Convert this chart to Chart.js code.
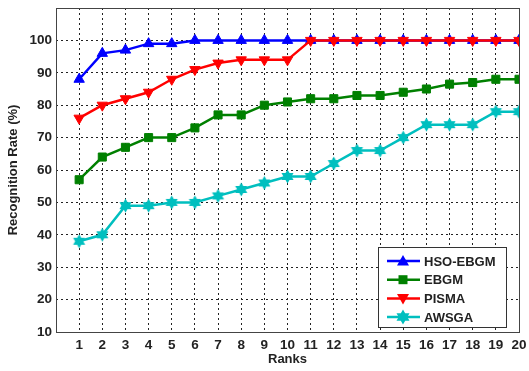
<!DOCTYPE html>
<html>
<head>
<meta charset="utf-8">
<script src="https://cdn.jsdelivr.net/npm/chart.js@4/dist/chart.umd.min.js"></script>
<style>
  html, body { margin: 0; padding: 0; background: #fff; }
  #wrap { width: 529px; height: 371px; position: relative; }
</style>
</head>
<body>
<div id="wrap"><canvas id="rankChart"></canvas></div>
<script>
const ranks = [1, 2, 3, 4, 5, 6, 7, 8, 9, 10, 11, 12, 13, 14, 15, 16, 17, 18, 19, 20];
const hsoEbgm = [88, 96, 97, 99, 99, 100, 100, 100, 100, 100, 100, 100, 100, 100, 100, 100, 100, 100, 100, 100];
const ebgm = [57, 64, 67, 70, 70, 73, 77, 77, 80, 81, 82, 82, 83, 83, 84, 85, 86.5, 87, 88, 88];
const pisma = [76, 80, 82, 84, 88, 91, 93, 94, 94, 94, 100, 100, 100, 100, 100, 100, 100, 100, 100, 100];
const awsga = [38, 40, 49, 49, 50, 50, 52, 54, 56, 58, 58, 62, 66, 66, 70, 74, 74, 74, 78, 78];
const yTicks = [10, 20, 30, 40, 50, 60, 70, 80, 90, 100];

const font = { family: "'Liberation Sans', Arial, sans-serif", size: 13, weight: 'bold' };
const tickFont = { ...font, size: 13.5 };
const textColor = '#222222';

function hexagram(color) {
  const c = document.createElement('canvas');
  c.width = 15; c.height = 15;
  const g = c.getContext('2d');
  starPath(g, 7.5, 7.5, 7);
  g.fillStyle = color;
  g.fill();
  return c;
}

function starPath(g, cx, cy, r) {
  const inner = r / Math.sqrt(3);
  g.beginPath();
  for (let i = 0; i < 12; i++) {
    const rad = i % 2 === 0 ? r : inner;
    const a = -Math.PI / 2 + i * Math.PI / 6;
    const px = cx + rad * Math.cos(a), py = cy + rad * Math.sin(a);
    i === 0 ? g.moveTo(px, py) : g.lineTo(px, py);
  }
  g.closePath();
}

function drawMarker(g, kind, x, y, color) {
  g.fillStyle = color;
  g.beginPath();
  if (kind === 'up') {
    g.moveTo(x, y - 6); g.lineTo(x + 6, y + 4.5); g.lineTo(x - 6, y + 4.5);
  } else if (kind === 'down') {
    g.moveTo(x, y + 6); g.lineTo(x + 6, y - 4.5); g.lineTo(x - 6, y - 4.5);
  } else if (kind === 'square') {
    g.rect(x - 4.5, y - 4.5, 9, 9);
  } else {
    starPath(g, x, y, 7.5);
  }
  g.closePath();
  g.fill();
}

const series = [
  { label: 'HSO-EBGM', values: hsoEbgm, color: '#0000FF', marker: 'up', order: 3 },
  { label: 'EBGM', values: ebgm, color: '#008000', marker: 'square', order: 2 },
  { label: 'PISMA', values: pisma, color: '#FF0000', marker: 'down', order: 0 },
  { label: 'AWSGA', values: awsga, color: '#00BFBF', marker: 'star', order: 1 }
];

function pointOpts(s) {
  if (s.marker === 'up') return { pointStyle: 'triangle', pointRadius: 6, pointRotation: 0 };
  if (s.marker === 'down') return { pointStyle: 'triangle', pointRadius: 6, pointRotation: 180 };
  if (s.marker === 'square') return { pointStyle: 'rect', pointRadius: 5.7, pointRotation: 0 };
  return { pointStyle: hexagram(s.color), pointRadius: 7, pointRotation: 0 };
}

const datasets = series.map(s => ({
  label: s.label,
  data: ranks.map((r, i) => ({ x: r, y: s.values[i] })),
  borderColor: s.color,
  backgroundColor: s.color,
  pointBackgroundColor: s.color,
  pointBorderColor: s.color,
  pointBorderWidth: 1,
  borderWidth: 2.5,
  tension: 0,
  order: s.order,
  ...pointOpts(s)
}));

const framePlugin = {
  id: 'frame',
  afterDraw(chart) {
    const { ctx, chartArea: a } = chart;
    ctx.save();
    ctx.strokeStyle = '#444444';
    ctx.lineWidth = 1;
    ctx.strokeRect(Math.round(a.left) + 0.5, Math.round(a.top) + 0.5,
      Math.round(a.right - a.left), Math.round(a.bottom - a.top));

    // legend box, bottom right inside the plot
    const bx = 378, by = 247, bw = 128, bh = 80;
    ctx.fillStyle = '#ffffff';
    ctx.fillRect(bx, by, bw, bh);
    ctx.strokeStyle = '#333333';
    ctx.strokeRect(bx + 0.5, by + 0.5, bw, bh);
    ctx.font = `${font.weight} ${font.size}px ${font.family}`;
    ctx.textBaseline = 'middle';
    series.forEach((s, i) => {
      const y = by + 14 + i * 18.7;
      ctx.strokeStyle = s.color;
      ctx.lineWidth = 2.5;
      ctx.beginPath();
      ctx.moveTo(387, y); ctx.lineTo(420, y);
      ctx.stroke();
      drawMarker(ctx, s.marker, 403, y, s.color);
      ctx.fillStyle = textColor;
      ctx.fillText(s.label, 424, y + 1);
    });
    ctx.restore();
  }
};

new Chart(document.getElementById('rankChart'), {
  type: 'line',
  data: { datasets },
  plugins: [framePlugin],
  options: {
    responsive: true,
    maintainAspectRatio: false,
    animation: false,
    layout: { padding: { left: 0, right: 10, top: 7, bottom: 0 } },
    plugins: { legend: { display: false }, tooltip: { enabled: false } },
    scales: {
      x: {
        type: 'linear',
        min: 0,
        max: 20,
        afterFit: scale => { scale.height = 39; scale.paddingRight = 0; scale.paddingLeft = 0; },
        afterBuildTicks: scale => { scale.ticks = [0, ...ranks].map(v => ({ value: v })); },
        ticks: {
          font: tickFont, color: textColor, padding: 5, maxRotation: 0, autoSkip: false,
          callback: v => (v === 0 ? '' : v)
        },
        grid: { color: '#222222', lineWidth: 1, drawTicks: false },
        border: { display: false, dash: [2, 3] },
        title: { display: true, text: 'Ranks', font, color: textColor, padding: { top: 0, bottom: 4 } }
      },
      y: {
        min: 10,
        max: 110,
        afterFit: scale => { scale.width = 56; scale.paddingTop = 0; scale.paddingBottom = 0; },
        afterBuildTicks: scale => { scale.ticks = [...yTicks, 110].map(v => ({ value: v })); },
        ticks: {
          font: tickFont, color: textColor, padding: 4,
          callback: v => (v === 110 ? '' : v)
        },
        grid: { color: '#222222', lineWidth: 1, drawTicks: false },
        border: { display: false, dash: [2, 3] },
        title: { display: true, text: 'Recognition Rate (%)', font, color: textColor, padding: { top: 6, bottom: 0 } }
      }
    }
  }
});
</script>
</body>
</html>
